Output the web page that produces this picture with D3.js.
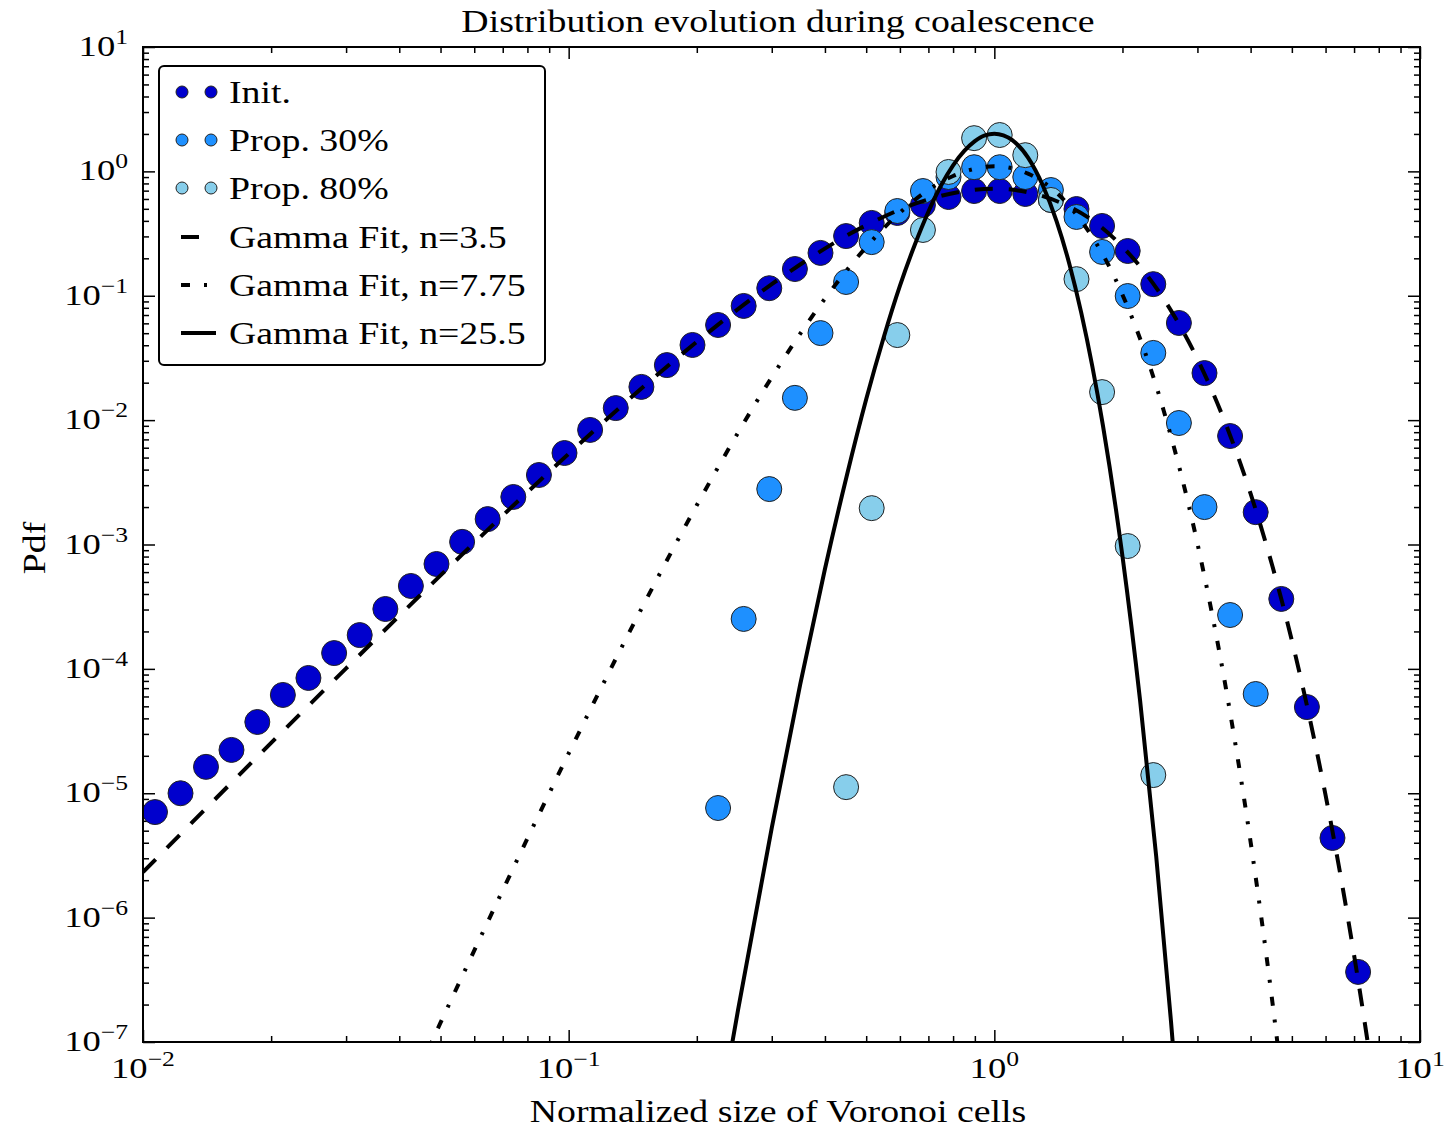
<!DOCTYPE html>
<html>
<head>
<meta charset="utf-8">
<script src="https://cdn.jsdelivr.net/npm/d3@7"></script>
<style>
  body { margin: 0; background: #fff; }
  text { font-family: "Liberation Serif", "DejaVu Serif", serif; fill: #000; }
</style>
</head>
<body>
<div id="chart"></div>
<script>
// Log bin centres of the measured distributions
var binCentres = [0.01067, 0.01225, 0.01406, 0.01614, 0.01856, 0.02131, 0.02447, 0.02812,
    0.03229, 0.03710, 0.04259, 0.04892, 0.05619, 0.06452, 0.07413, 0.08514, 0.09777, 0.1123,
    0.1290, 0.1482, 0.1701, 0.1954, 0.2244, 0.2577, 0.2960, 0.3400, 0.3905, 0.4485, 0.5151,
    0.5917, 0.6796, 0.7805, 0.8963, 1.0294, 1.1823, 1.3579, 1.5596, 1.7912, 2.0573, 2.3628,
    2.7138, 3.1168, 3.5801, 4.1115, 4.7226, 5.4238, 6.2287, 7.1548];

// Init. pdf, one value per bin
var initPdf = [7.06e-6, 1.00e-5, 1.63e-5, 2.23e-5, 3.74e-5, 6.17e-5, 8.45e-5, 1.34e-4,
    1.87e-4, 3.03e-4, 4.64e-4, 6.97e-4, 1.05e-3, 1.60e-3, 2.41e-3, 3.62e-3, 5.44e-3, 8.34e-3,
    1.25e-2, 1.85e-2, 2.77e-2, 4.02e-2, 5.82e-2, 8.28e-2, 0.115, 0.164, 0.221, 0.302, 0.385,
    0.463, 0.537, 0.622, 0.695, 0.695, 0.658, 0.589, 0.498, 0.364, 0.229, 0.124, 6.04e-2,
    2.39e-2, 7.45e-3, 1.82e-3, 3.65e-4, 4.93e-5, 4.37e-6, 3.66e-7];

// Prop. 30% pdf, bins 22..43
var prop30First = 22;
var prop30Pdf = [7.61e-6, 2.52e-4, 2.79e-3, 1.51e-2, 5.01e-2, 0.129, 0.270, 0.480, 0.695,
    0.901, 1.08, 1.08, 0.901, 0.708, 0.430, 0.225, 0.0995, 0.0347, 9.48e-3, 2.00e-3,
    2.71e-4, 6.28e-5];

// Prop. 80% pdf, bins 27..39
var prop80First = 27;
var prop80Pdf = [1.12e-5, 1.96e-3, 4.83e-2, 0.338, 0.989, 1.85, 1.96, 1.35, 0.589, 0.136,
    0.0168, 9.72e-4, 1.40e-5];

// Gamma fit n=3.5 (dashed)
var fit35X = [0.01, 0.02, 0.03, 0.05, 0.07, 0.1, 0.15, 0.2, 0.3, 0.5, 0.7, 1, 1.5, 2, 2.5,
    3, 3.5, 4, 4.5, 5, 5.5, 6, 6.5, 7, 7.5, 8];
var fit35Y = [2.32e-6, 2.54e-5, 1.01e-4, 5.64e-4, 1.71e-3, 5.36e-3, 1.86e-2, 4.27e-2, 0.124,
    0.369, 0.596, 0.726, 0.521, 0.248, 9.42e-2, 3.10e-2, 9.23e-3, 2.56e-3, 6.71e-4, 1.69e-4,
    4.09e-5, 9.66e-6, 2.22e-6, 5.00e-7, 1.11e-7, 2.41e-8];

// Gamma fit n=7.75 (dash-dot)
var fit775X = [0.045, 0.05, 0.07, 0.1, 0.15, 0.2, 0.3, 0.4, 0.5, 0.6, 0.7, 0.8, 0.9, 1, 1.2,
    1.5, 2, 2.5, 3, 3.5, 4, 4.5, 4.8];
var fit775Y = [6.58e-8, 1.43e-7, 1.66e-6, 2.09e-5, 3.29e-4, 2.07e-3, 2.21e-2, 9.48e-2, 0.246,
    0.466, 0.710, 0.918, 1.05, 1.10, 0.959, 0.528, 0.102, 1.19e-2, 1.02e-3, 6.97e-5, 4.06e-6,
    2.10e-7, 3.38e-8];

// Gamma fit n=25.5 (solid)
var fit255X = [0.23, 0.25, 0.3, 0.35, 0.4, 0.45, 0.5, 0.55, 0.6, 0.65, 0.7, 0.75, 0.8, 0.85,
    0.9, 0.95, 1.0, 1.05, 1.1, 1.2, 1.3, 1.4, 1.5, 1.6, 1.8, 2.0, 2.2, 2.4, 2.6, 2.7];
var fit255Y = [3.59e-8, 1.81e-7, 5.27e-6, 7.55e-5, 6.35e-4, 3.56e-3, 1.47e-2, 4.66e-2, 0.120,
    0.256, 0.474, 0.773, 1.12, 1.46, 1.75, 1.95, 2.01, 1.95, 1.79, 1.29, 0.769, 0.398, 0.181,
    7.31e-2, 8.99e-3, 8.04e-4, 5.56e-5, 3.12e-6, 1.47e-7, 3.00e-8];

// Axis decades
var xTickExp = [-2, -1, 0, 1];
var yTickExp = [1, 0, -1, -2, -3, -4, -5, -6, -7];

var legendLabels = ["Init.", "Prop. 30%", "Prop. 80%", "Gamma Fit, n=3.5", "Gamma Fit, n=7.75", "Gamma Fit, n=25.5"];

// Size and plot frame
var outer_width = 1450;
var outer_height = 1131;
var frame = {left: 143, right: 1420, top: 47, bottom: 1042};

// The reference font (Computer Modern) runs wider than Liberation Serif
var widenFactor = 1.22;
function widen(sel) {
    sel.each(function() {
        var w = this.getComputedTextLength();
        d3.select(this)
            .attr("textLength", w * widenFactor)
            .attr("lengthAdjust", "spacingAndGlyphs");
    });
}

var xScale = d3.scaleLog().domain([0.01, 10]).range([frame.left, frame.right]);
var yScale = d3.scaleLog().domain([1e-7, 10]).range([frame.bottom, frame.top]);

var svg = d3.select("#chart")
    .append("svg")
    .attr("width", outer_width)
    .attr("height", outer_height);

svg.append("rect")
    .attr("width", outer_width)
    .attr("height", outer_height)
    .attr("fill", "#fff");

svg.append("clipPath")
    .attr("id", "plot-clip")
    .append("rect")
    .attr("x", frame.left)
    .attr("y", frame.top)
    .attr("width", frame.right - frame.left)
    .attr("height", frame.bottom - frame.top);

// Minor tick values 2..9 in each decade
function minorTicks(lo, hi) {
    var vals = [];
    for (var e = lo; e < hi; e++) {
        for (var m = 2; m <= 9; m++) vals.push(m * Math.pow(10, e));
    }
    return vals;
}
var xMajor = xTickExp.map(function(e) { return Math.pow(10, e); });
var yMajor = yTickExp.map(function(e) { return Math.pow(10, e); });
var xMinor = minorTicks(-2, 1);
var yMinor = minorTicks(-7, 1);

// Ticks point inwards on all four sides
function addTicks(axisFn, scale, vals, size, transform) {
    var g = svg.append("g")
        .attr("class", "ticks")
        .attr("transform", transform)
        .call(axisFn(scale).tickValues(vals).tickSizeInner(-size).tickSizeOuter(0).tickFormat(""));
    g.select(".domain").remove();
    g.selectAll("line").attr("stroke", "#000").attr("stroke-width", 1.5);
}
addTicks(d3.axisBottom, xScale, xMajor, 12, "translate(0," + frame.bottom + ")");
addTicks(d3.axisBottom, xScale, xMinor, 6, "translate(0," + frame.bottom + ")");
addTicks(d3.axisTop, xScale, xMajor, 12, "translate(0," + frame.top + ")");
addTicks(d3.axisTop, xScale, xMinor, 6, "translate(0," + frame.top + ")");
addTicks(d3.axisLeft, yScale, yMajor, 12, "translate(" + frame.left + ",0)");
addTicks(d3.axisLeft, yScale, yMinor, 6, "translate(" + frame.left + ",0)");
addTicks(d3.axisRight, yScale, yMajor, 12, "translate(" + frame.right + ",0)");
addTicks(d3.axisRight, yScale, yMinor, 6, "translate(" + frame.right + ",0)");

// Tick labels as 10 with a superscript exponent
function expText(e) { return e < 0 ? "\u2212" + Math.abs(e) : String(e); }

var xLabels = svg.append("g").selectAll("text")
    .data(xTickExp)
    .enter()
    .append("text")
    .attr("x", function(d) { return xScale(Math.pow(10, d)); })
    .attr("y", 1078)
    .attr("text-anchor", "middle")
    .attr("font-size", "30px");
xLabels.append("tspan").text("10");
xLabels.append("tspan").attr("dy", -12).attr("font-size", "21px").text(function(d) { return expText(d); });
widen(xLabels);

var yLabels = svg.append("g").selectAll("text")
    .data(yTickExp)
    .enter()
    .append("text")
    .attr("x", 128)
    .attr("y", function(d) { return yScale(Math.pow(10, d)) + 9; })
    .attr("text-anchor", "end")
    .attr("font-size", "30px");
yLabels.append("tspan").text("10");
yLabels.append("tspan").attr("dy", -12).attr("font-size", "21px").text(function(d) { return expText(d); });
widen(yLabels);

// Scatter series
var series = [
    {pdf: initPdf, first: 0, color: "#0000cd"},
    {pdf: prop30Pdf, first: prop30First, color: "#1e90ff"},
    {pdf: prop80Pdf, first: prop80First, color: "#87ceeb"}
];

var plot = svg.append("g").attr("clip-path", "url(#plot-clip)");

series.forEach(function(s) {
    plot.append("g")
        .selectAll("circle")
        .data(s.pdf)
        .enter()
        .append("circle")
        .attr("cx", function(d, i) { return xScale(binCentres[s.first + i]); })
        .attr("cy", function(d) { return yScale(d); })
        .attr("r", 12.5)
        .attr("fill", s.color)
        .attr("stroke", "#222")
        .attr("stroke-width", 1);
});

// Gamma fit curves
var fits = [
    {xs: fit35X, ys: fit35Y, dash: "18,16", width: 4},
    {xs: fit775X, ys: fit775Y, dash: "9,14,3,14", width: 4},
    {xs: fit255X, ys: fit255Y, dash: null, width: 4}
];

var line = d3.line()
    .x(function(d) { return xScale(d[0]); })
    .y(function(d) { return yScale(d[1]); })
    .curve(d3.curveMonotoneX);

fits.forEach(function(f) {
    plot.append("path")
        .datum(d3.zip(f.xs, f.ys))
        .attr("d", line)
        .attr("fill", "none")
        .attr("stroke", "#000")
        .attr("stroke-width", f.width)
        .attr("stroke-dasharray", f.dash);
});

// Plot frame
svg.append("rect")
    .attr("x", frame.left)
    .attr("y", frame.top)
    .attr("width", frame.right - frame.left)
    .attr("height", frame.bottom - frame.top)
    .attr("fill", "none")
    .attr("stroke", "#000")
    .attr("stroke-width", 2);

// Legend
var legend = svg.append("g");
legend.append("rect")
    .attr("x", 159)
    .attr("y", 66)
    .attr("width", 386)
    .attr("height", 299)
    .attr("rx", 5)
    .attr("fill", "#fff")
    .attr("stroke", "#000")
    .attr("stroke-width", 2);

var rowY = [92, 140, 188, 237, 285, 333];
legendLabels.forEach(function(label, i) {
    var y = rowY[i];
    if (i < 3) {
        [182, 211].forEach(function(cx) {
            legend.append("circle")
                .attr("cx", cx)
                .attr("cy", y)
                .attr("r", 6)
                .attr("fill", series[i].color)
                .attr("stroke", "#222")
                .attr("stroke-width", 1);
        });
    } else {
        var f = fits[i - 3];
        legend.append("line")
            .attr("x1", 181)
            .attr("x2", i === 3 ? 200 : 216)
            .attr("y1", y)
            .attr("y2", y)
            .attr("stroke", "#000")
            .attr("stroke-width", f.width)
            .attr("stroke-dasharray", f.dash);
    }
    legend.append("text")
        .attr("x", 229)
        .attr("y", y + 11)
        .attr("font-size", "31px")
        .text(label)
        .call(widen);
});

// Titles
svg.append("text")
    .attr("x", 778)
    .attr("y", 32)
    .attr("text-anchor", "middle")
    .attr("font-size", "31px")
    .text("Distribution evolution during coalescence")
    .call(widen);

svg.append("text")
    .attr("x", 778)
    .attr("y", 1122)
    .attr("text-anchor", "middle")
    .attr("font-size", "31px")
    .text("Normalized size of Voronoi cells")
    .call(widen);

svg.append("text")
    .attr("transform", "translate(45,548) rotate(-90)")
    .attr("text-anchor", "middle")
    .attr("font-size", "31px")
    .text("Pdf")
    .call(widen);
</script>
</body>
</html>
